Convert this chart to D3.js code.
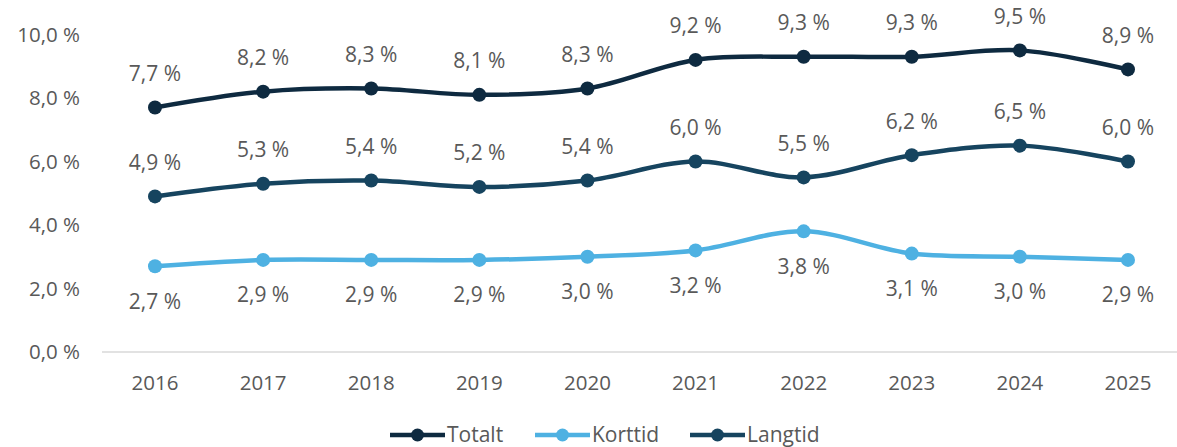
<!DOCTYPE html>
<html>
<head>
<meta charset="utf-8">
<script src="https://cdn.jsdelivr.net/npm/d3@7"></script>
<style>
  body { margin: 0; background: #fff; }
  svg { display: block; font-family: "Open Sans", "Noto Sans", sans-serif; }
</style>
</head>
<body>
<div id="chart"></div>
<script>
// ----- data
var years = ["2016", "2017", "2018", "2019", "2020", "2021", "2022", "2023", "2024", "2025"];
var totalt = [7.7, 8.2, 8.3, 8.1, 8.3, 9.2, 9.3, 9.3, 9.5, 8.9];
var korttid = [2.7, 2.9, 2.9, 2.9, 3.0, 3.2, 3.8, 3.1, 3.0, 2.9];
var langtid = [4.9, 5.3, 5.4, 5.2, 5.4, 6.0, 5.5, 6.2, 6.5, 6.0];
var yTicks = [0, 2, 4, 6, 8, 10];

var series = [
  { name: "Totalt", values: totalt, color: "#0e2a40", labelPos: "above" },
  { name: "Korttid", values: korttid, color: "#4eb1e2", labelPos: "below" },
  { name: "Langtid", values: langtid, color: "#16445f", labelPos: "above" }
];

var w = 1177, h = 447;
var svg = d3.select("#chart").append("svg").attr("width", w).attr("height", h);

var x = d3.scalePoint().domain(years).range([155, 1128]);
var y = d3.scaleLinear().domain([0, 10]).range([352, 34.5]);

var fmt = function (v) { return d3.format(".1f")(v).replace(".", ",") + " %"; };

// ----- linja nederst
svg.append("line")
  .attr("x1", 102).attr("x2", w)
  .attr("y1", y(0)).attr("y2", y(0))
  .attr("stroke", "#d9d9d9").attr("stroke-width", 1.3);

// ----- y tick labels
svg.append("g").selectAll("text").data(yTicks).enter().append("text")
  .attr("x", 80).attr("y", function (d) { return y(d); })
  .attr("dy", "0.35em")
  .attr("text-anchor", "end")
  .attr("fill", "#595959").attr("font-size", 20.5)
  .text(fmt);

// ----- x tick labels
svg.append("g").selectAll("text").data(years).enter().append("text")
  .attr("x", function (d) { return x(d); }).attr("y", 383)
  .attr("dy", "0.35em")
  .attr("text-anchor", "middle")
  .attr("fill", "#595959").attr("font-size", 20.5)
  .text(function (d) { return d; });

var line = d3.line()
  .x(function (d, i) { return x(years[i]); })
  .y(function (d) { return y(d); })
  .curve(d3.curveCatmullRom.alpha(0.5));

series.forEach(function (s) {
  var g = svg.append("g");
  g.append("path")
    .attr("d", line(s.values))
    .attr("fill", "none")
    .attr("stroke", s.color)
    .attr("stroke-width", 4.5)
    .attr("stroke-linecap", "round");
  g.selectAll("circle").data(s.values).enter().append("circle")
    .attr("cx", function (d, i) { return x(years[i]); })
    .attr("cy", function (d) { return y(d); })
    .attr("r", 7)
    .attr("fill", s.color);
  g.selectAll("text").data(s.values).enter().append("text")
    .attr("x", function (d, i) { return x(years[i]); })
    .attr("y", function (d) { return y(d) + (s.labelPos === "above" ? -34 : 35); })
    .attr("dy", "0.35em")
    .attr("text-anchor", "middle")
    .attr("fill", "#595959").attr("font-size", 21)
    .text(fmt);
});

// ----- legend
var legendX = [390, 535, 690];
var legend = svg.append("g");
series.forEach(function (s, i) {
  var lg = legend.append("g").attr("transform", "translate(" + legendX[i] + ",435)");
  lg.append("line").attr("x1", 0).attr("x2", 55).attr("y1", 0).attr("y2", 0)
    .attr("stroke", s.color).attr("stroke-width", 4.5);
  lg.append("circle").attr("cx", 27.5).attr("cy", 0).attr("r", 6.5).attr("fill", s.color);
  lg.append("text").attr("x", 57).attr("y", 0).attr("dy", "0.35em")
    .attr("fill", "#595959").attr("font-size", 21)
    .text(s.name);
});
</script>
</body>
</html>
